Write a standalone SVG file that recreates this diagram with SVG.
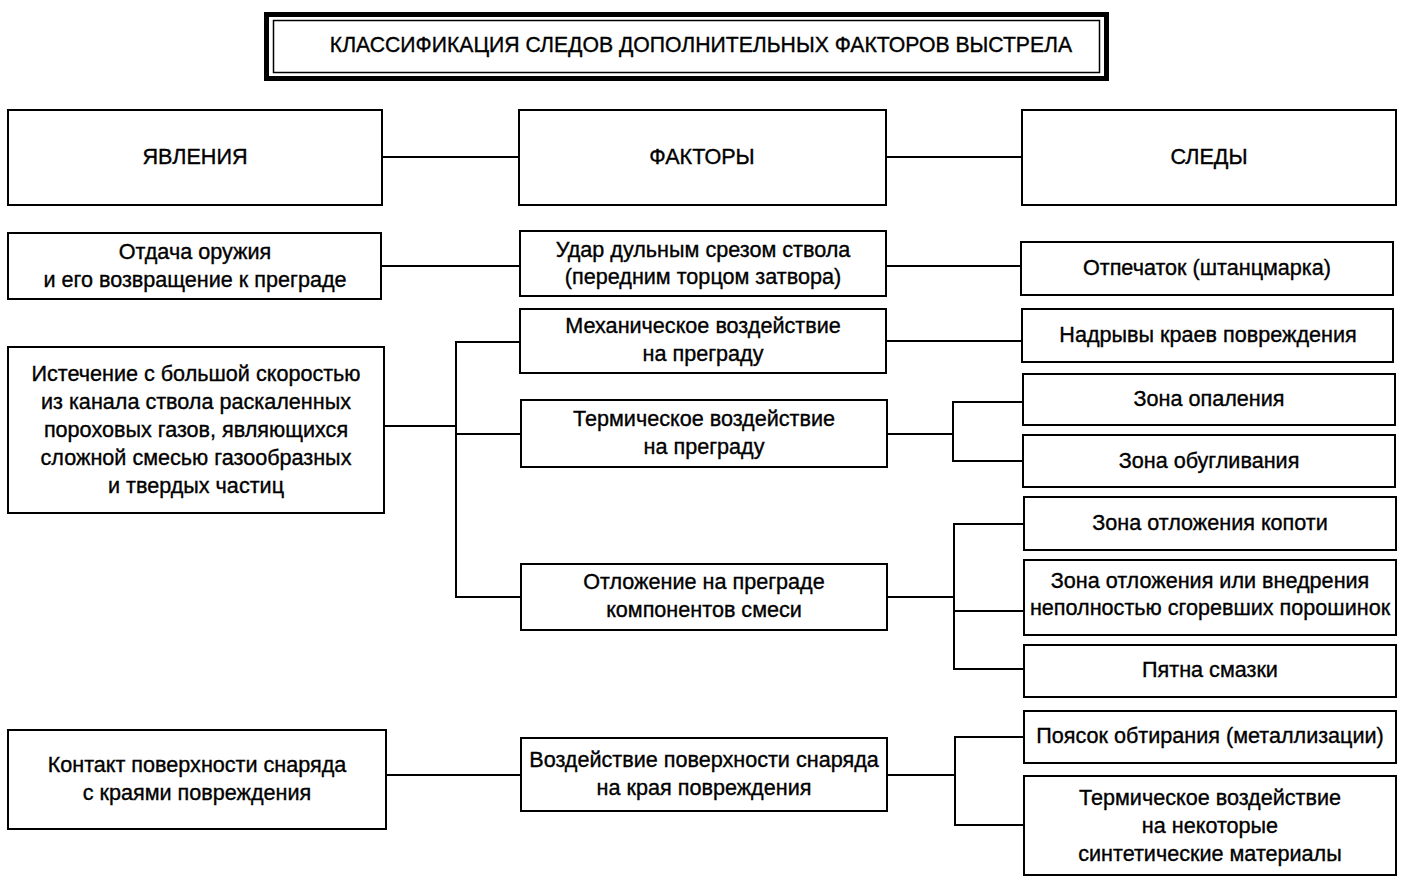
<svg xmlns="http://www.w3.org/2000/svg" width="1403" height="885" viewBox="0 0 1403 885">
<style>
rect.b{fill:#fff;stroke:#000;stroke-width:2}
text{font-family:"Liberation Sans",Arial,sans-serif;font-size:21.6px;fill:#000;text-anchor:middle;stroke:#000;stroke-width:0.35}
text.t{font-size:21.2px}
.c line{stroke:#000;stroke-width:2}
</style>
<rect width="1403" height="885" fill="#fff"/>
<g id="title">
<rect x="266.5" y="14.5" width="840" height="64" fill="#fff" stroke="#000" stroke-width="5"/>
<rect x="273.5" y="20.5" width="826" height="52" fill="none" stroke="#000" stroke-width="1.5"/>
<text class="t" x="701" y="52">КЛАССИФИКАЦИЯ СЛЕДОВ ДОПОЛНИТЕЛЬНЫХ ФАКТОРОВ ВЫСТРЕЛА</text>
</g>
<g class="c" id="connectors">
<line x1="382" y1="157" x2="519" y2="157"/>
<line x1="886" y1="157" x2="1022" y2="157"/>
<line x1="381" y1="266" x2="520" y2="266"/>
<line x1="886" y1="266" x2="1021" y2="266"/>
<line x1="886" y1="341" x2="1022" y2="341"/>
<line x1="384" y1="426" x2="456" y2="426"/>
<line x1="456" y1="341" x2="456" y2="598"/>
<line x1="455" y1="342" x2="520" y2="342"/>
<line x1="456" y1="434" x2="521" y2="434"/>
<line x1="455" y1="597" x2="521" y2="597"/>
<line x1="887" y1="434" x2="953" y2="434"/>
<line x1="953" y1="401" x2="953" y2="462"/>
<line x1="952" y1="402" x2="1023" y2="402"/>
<line x1="952" y1="461" x2="1023" y2="461"/>
<line x1="887" y1="597" x2="954" y2="597"/>
<line x1="954" y1="523" x2="954" y2="670"/>
<line x1="953" y1="524" x2="1024" y2="524"/>
<line x1="954" y1="611" x2="1024" y2="611"/>
<line x1="953" y1="669" x2="1024" y2="669"/>
<line x1="386" y1="775" x2="521" y2="775"/>
<line x1="887" y1="775" x2="955" y2="775"/>
<line x1="955" y1="736" x2="955" y2="826"/>
<line x1="954" y1="737" x2="1024" y2="737"/>
<line x1="954" y1="825" x2="1024" y2="825"/>
</g>
<g id="n-yavleniya"><rect class="b" x="8" y="110" width="374" height="95"/><text x="195" y="164">ЯВЛЕНИЯ</text></g>
<g id="n-faktory"><rect class="b" x="519" y="110" width="367" height="95"/><text x="702" y="164">ФАКТОРЫ</text></g>
<g id="n-sledy"><rect class="b" x="1022" y="110" width="374" height="95"/><text x="1209" y="164">СЛЕДЫ</text></g>
<g id="n-otdacha"><rect class="b" x="8" y="233" width="373" height="66"/><text x="195" y="259">Отдача оружия</text><text x="195" y="287">и его возвращение к преграде</text></g>
<g id="n-udar"><rect class="b" x="520" y="231" width="366" height="65"/><text x="703" y="257">Удар дульным срезом ствола</text><text x="703" y="284">(передним торцом затвора)</text></g>
<g id="n-otpechatok"><rect class="b" x="1021" y="242" width="372" height="53"/><text x="1207" y="275">Отпечаток (штанцмарка)</text></g>
<g id="n-mekh"><rect class="b" x="520" y="309" width="366" height="64"/><text x="703" y="333">Механическое воздействие</text><text x="703" y="361">на преграду</text></g>
<g id="n-nadryvy"><rect class="b" x="1022" y="309" width="371" height="53"/><text x="1208" y="342">Надрывы краев повреждения</text></g>
<g id="n-istechenie"><rect class="b" x="8" y="347" width="376" height="166"/>
<text x="196" y="381">Истечение с большой скоростью</text>
<text x="196" y="409">из канала ствола раскаленных</text>
<text x="196" y="437">пороховых газов, являющихся</text>
<text x="196" y="465">сложной смесью газообразных</text>
<text x="196" y="493">и твердых частиц</text></g>
<g id="n-term"><rect class="b" x="521" y="400" width="366" height="67"/><text x="704" y="426">Термическое воздействие</text><text x="704" y="454">на преграду</text></g>
<g id="n-opalenie"><rect class="b" x="1023" y="374" width="372" height="51"/><text x="1209" y="406">Зона опаления</text></g>
<g id="n-obugl"><rect class="b" x="1023" y="435" width="372" height="52"/><text x="1209" y="468">Зона обугливания</text></g>
<g id="n-kopot"><rect class="b" x="1024" y="497" width="372" height="53"/><text x="1210" y="530">Зона отложения копоти</text></g>
<g id="n-vnedrenie"><rect class="b" x="1024" y="560" width="372" height="75"/><text x="1210" y="588">Зона отложения или внедрения</text><text x="1210" y="615">неполностью сгоревших порошинок</text></g>
<g id="n-smazka"><rect class="b" x="1024" y="645" width="372" height="52"/><text x="1210" y="677">Пятна смазки</text></g>
<g id="n-otlozhenie"><rect class="b" x="521" y="564" width="366" height="66"/><text x="704" y="589">Отложение на преграде</text><text x="704" y="617">компонентов смеси</text></g>
<g id="n-kontakt"><rect class="b" x="8" y="730" width="378" height="99"/><text x="197" y="772">Контакт поверхности снаряда</text><text x="197" y="800">с краями повреждения</text></g>
<g id="n-vozd"><rect class="b" x="521" y="738" width="366" height="73"/><text x="704" y="767">Воздействие поверхности снаряда</text><text x="704" y="795">на края повреждения</text></g>
<g id="n-poyasok"><rect class="b" x="1024" y="711" width="372" height="52"/><text x="1210" y="743">Поясок обтирания (металлизации)</text></g>
<g id="n-sint"><rect class="b" x="1024" y="776" width="372" height="99"/><text x="1210" y="805">Термическое воздействие</text><text x="1210" y="833">на некоторые</text><text x="1210" y="861">синтетические материалы</text></g>
</svg>
